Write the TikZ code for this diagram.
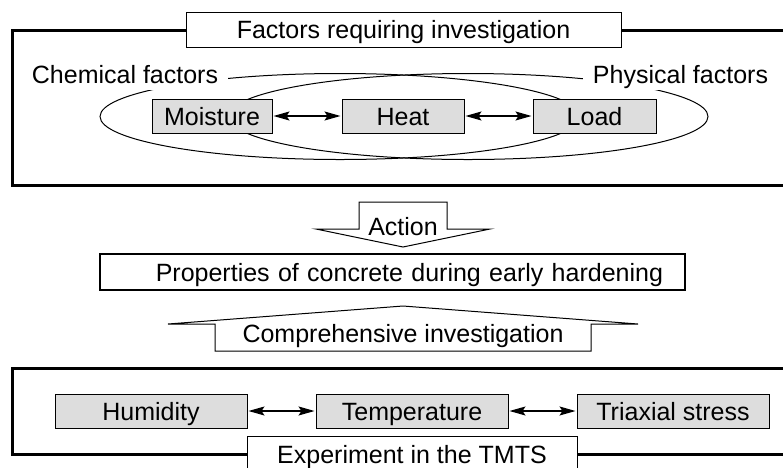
\documentclass[tikz,border=0pt]{standalone}
\usepackage{fontspec}
\setmainfont{Liberation Sans}
\usetikzlibrary{arrows.meta}
\definecolor{boxgray}{RGB}{221,221,221}
\tikzset{
	frame/.style={line width=3pt},
	titlebox/.style={draw, line width=1pt, fill=white, inner sep=0pt, minimum height=35pt},
	factor/.style={draw, line width=1pt, fill=boxgray, inner sep=0pt, minimum height=34pt},
	sidelabel/.style={fill=white, inner xsep=10pt, inner ysep=0pt, minimum height=32pt},
	bothway/.style={line width=1.3pt, shorten <=1pt, shorten >=1pt, {Stealth[length=16pt,width=9pt,inset=3pt]}-{Stealth[length=16pt,width=9pt,inset=3pt]}},
	blockarrow/.style={draw, line width=1pt, fill=white, line join=miter}
}

\begin{document}
\begin{tikzpicture}[x=1pt, y=-1pt, font=\fontsize{25}{30}\selectfont, text height=18pt, text depth=0pt]
				\useasboundingbox (0,0) rectangle (783,467);
				
				\draw[frame] (12,30) rectangle (800,185);
				\draw[line width=1pt] (340,116.5) ellipse (240 and 43);
				\draw[line width=1pt] (468,116.5) ellipse (240 and 43);
				\node[sidelabel] (chem) at (125,74) {Chemical factors};
				\node[sidelabel] (phys) at (680.5,74) {Physical factors};
				\node[titlebox, minimum width=435pt] (factors) at (403.5,29.5) {Factors requiring investigation};
				
				\node[factor, minimum width=120pt] (moist) at (212,116) {Moisture};
				\node[factor, minimum width=122pt] (heat) at (403,116) {Heat};
				\node[factor, minimum width=123pt] (load) at (594.5,116) {Load};
				\draw[bothway] (moist) -- (heat);
				\draw[bothway] (heat) -- (load);
				
				\draw[blockarrow] (359,202) -- (447,202) -- (447,229) -- (490,229) -- (403,247) -- (316,229) -- (359,229) -- cycle;
				\node (action) at (403,226) {Action};
				
				\node[draw, line width=2.7pt, fill=white, inner xsep=22pt, inner ysep=0pt, minimum height=36pt, text width=541pt, align=right] (props) at (392.5,272) {Properties of concrete during early hardening};
				
				\draw[blockarrow] (403,306) -- (638,324) -- (591,324) -- (591,351) -- (215,351) -- (215,324) -- (168,324) -- cycle;
				\node (compr) at (403,333.5) {Comprehensive investigation};
				
				\draw[frame] (12,368) rectangle (800,454);
				\node[factor, minimum width=192pt] (humid) at (151,411) {Humidity};
				\node[factor, minimum width=192pt] (temp) at (412,411) {Temperature};
				\node[factor, minimum width=192pt] (triax) at (673,411) {Triaxial stress};
				\draw[bothway] (humid) -- (temp);
				\draw[bothway] (temp) -- (triax);
				\node[titlebox, minimum width=330pt, minimum height=36pt] (expt) at (412,454) {Experiment in the TMTS};
			\end{tikzpicture}
\end{document}
